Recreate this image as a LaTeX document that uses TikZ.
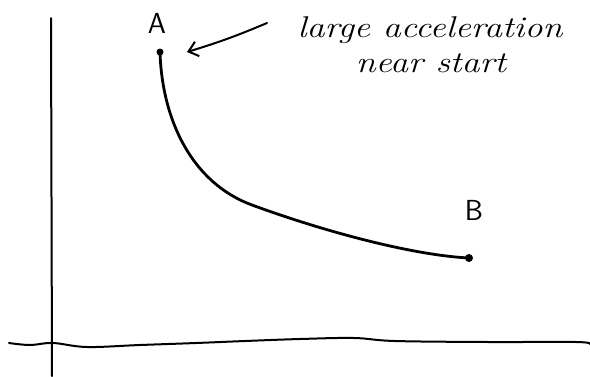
\documentclass[tikz,border=0pt]{standalone}
\usetikzlibrary{arrows.meta}
\begin{document}
\begin{tikzpicture}[x=1pt,y=-1pt,
  axis/.style={line width=2pt,line cap=round,line join=round},
  curvestyle/.style={line width=2.8pt,line cap=round,line join=round},
  pointdot/.style={circle,fill=black,inner sep=0pt,minimum size=#1},
  lbl/.style={font=\sffamily\fontsize{29}{32}\selectfont,inner sep=0pt},
  hand/.style={font=\itshape\fontsize{30}{34}\selectfont,inner sep=0pt,anchor=base},
  pointer/.style={line width=2pt,line cap=round,-{Straight Barb[length=9pt,width=15pt,line width=2pt]}}]
\useasboundingbox (0,0) rectangle (590,376);
\fill[white] (0,0) rectangle (590,376);
% axes
\coordinate (ytop) at (51,18);
\coordinate (ybot) at (52,376);
\coordinate (xl) at (9,343);
\coordinate (xr) at (590,344);
\draw[axis] (ytop) -- (ybot);
\draw[axis] plot[smooth,tension=0.6] coordinates {(9,343) (30,345) (53,343) (87,347) (140,345) (196,343) (245,341) (300,339) (354,338) (395,341) (489,342) (576,342) (590,344)};
% curve
\node[pointdot=7pt] (pA) at (160,52) {};
\node[pointdot=8pt] (pB) at (469,258) {};
\coordinate (knee) at (252,205);
\draw[curvestyle] (pA.center) .. controls (162,120) and (192,183) .. (knee)
  .. controls (320,230) and (410,255) .. (pB.center);
% labels
\node[lbl] (A) at (157,23) {A};
\node[lbl] (B) at (474,210) {B};
% annotation
\node[hand] (note1) at (430,37) {\scalebox{1.2}[1]{large acceleration}};
\node[hand] (note2) at (431,72) {\scalebox{1.2}[1]{near start}};
\coordinate (tail) at (267,23);
\coordinate (head) at (187,52);
\draw[pointer] (tail) to[bend left=3] (head);
\end{tikzpicture}
\end{document}
